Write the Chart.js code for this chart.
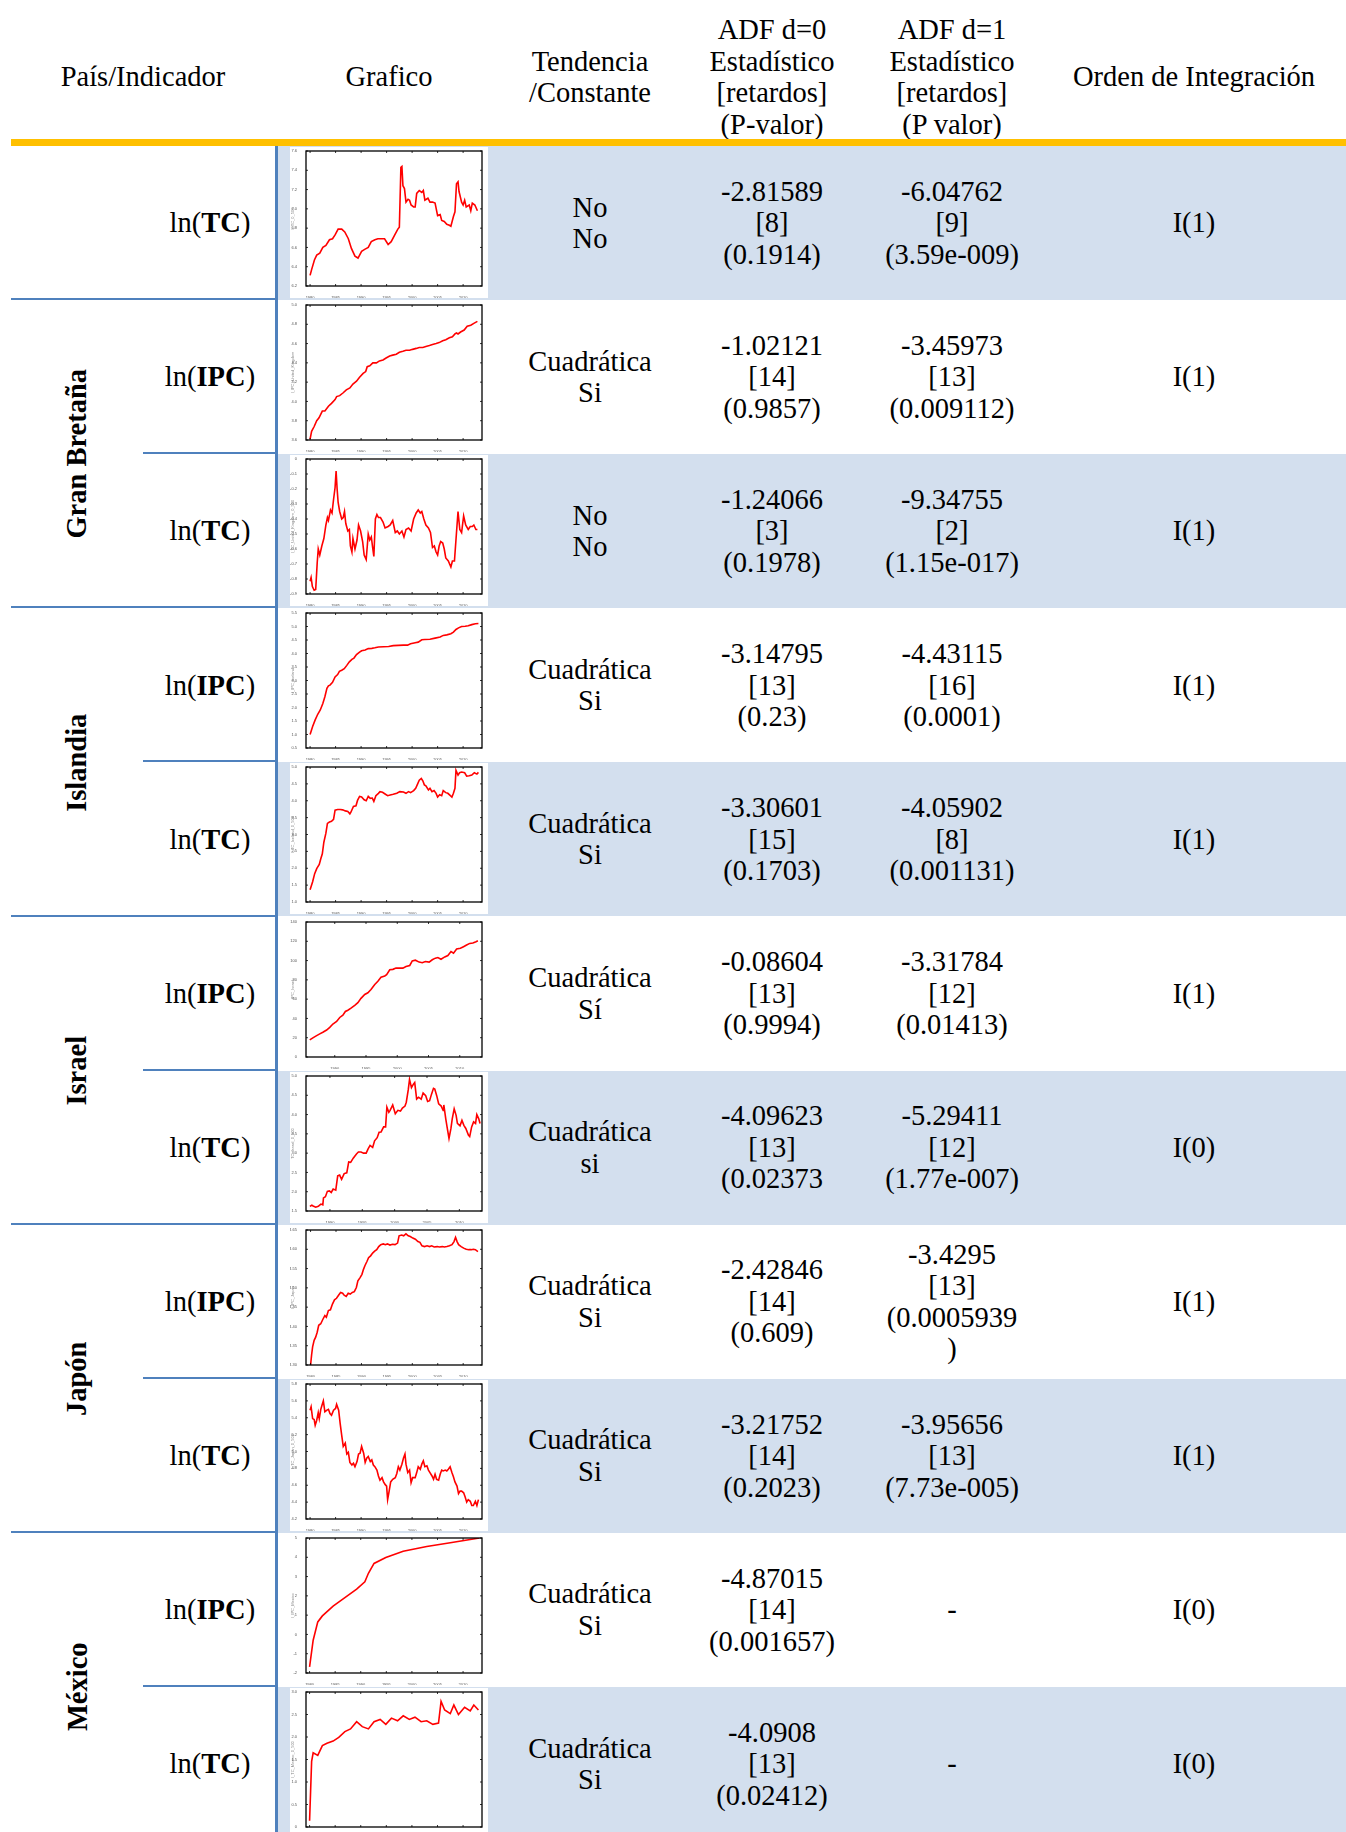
<!DOCTYPE html>
<html>
<head>
<meta charset="utf-8">
<script src="https://cdn.jsdelivr.net/npm/chart.js@4.4.0/dist/chart.umd.min.js"></script>
<style>
  body { margin: 0; background: #fff; }
  #page {
    position: relative; width: 1346px; height: 1832px; overflow: hidden;
    font-family: "Liberation Serif", "Times New Roman", serif; font-size: 28.5px; color: #000;
  }
  .abs { position: absolute; }
  .cell {
    position: absolute; display: flex; flex-direction: column; justify-content: center;
    align-items: center; text-align: center; line-height: 31.5px; white-space: nowrap;
  }
  .country span { display: inline-block; transform: rotate(-90deg); font-weight: bold; }
  .chartbox { position: absolute; background: #fff; }
</style>
</head>
<body>
<div id="page"></div>
<script>
// Tabla de raíces unitarias (ADF)
const indicators = ["TC", "IPC", "TC", "IPC", "TC", "IPC", "TC", "IPC", "TC", "IPC", "TC"]
const countries = [["Gran Bretaña", 1], ["Islandia", 3], ["Israel", 5], ["Japón", 7], ["México", 9]]
const tendencia = [["No", "No"], ["Cuadrática", "Si"], ["No", "No"], ["Cuadrática", "Si"], ["Cuadrática", "Si"],
  ["Cuadrática", "Sí"], ["Cuadrática", "si"], ["Cuadrática", "Si"], ["Cuadrática", "Si"], ["Cuadrática", "Si"], ["Cuadrática", "Si"]]
const adf0 = [["-2.81589", "[8]", "(0.1914)"], ["-1.02121", "[14]", "(0.9857)"], ["-1.24066", "[3]", "(0.1978)"],
  ["-3.14795", "[13]", "(0.23)"], ["-3.30601", "[15]", "(0.1703)"], ["-0.08604", "[13]", "(0.9994)"],
  ["-4.09623", "[13]", "(0.02373"], ["-2.42846", "[14]", "(0.609)"], ["-3.21752", "[14]", "(0.2023)"],
  ["-4.87015", "[14]", "(0.001657)"], ["-4.0908", "[13]", "(0.02412)"]]
const adf1 = [["-6.04762", "[9]", "(3.59e-009)"], ["-3.45973", "[13]", "(0.009112)"], ["-9.34755", "[2]", "(1.15e-017)"],
  ["-4.43115", "[16]", "(0.0001)"], ["-4.05902", "[8]", "(0.001131)"], ["-3.31784", "[12]", "(0.01413)"],
  ["-5.29411", "[12]", "(1.77e-007)"], ["-3.4295", "[13]", "(0.0005939", ")"], ["-3.95656", "[13]", "(7.73e-005)"],
  ["-"], ["-"]]
const orden = ["I(1)", "I(1)", "I(1)", "I(1)", "I(1)", "I(1)", "I(0)", "I(1)", "I(1)", "I(0)", "I(0)"]

// Series de los gráficos [año, valor]
const serieTc0 = [[1980.0,6.31],[1980.3,6.37],[1980.85,6.47],[1981.3,6.52],[1981.9,6.54],[1982.5,6.60],[1983.1,6.62],[1983.8,6.68],[1984.4,6.69],[1984.9,6.73],[1985.5,6.79],[1986.2,6.79],[1986.8,6.76],[1987.5,6.69],[1988.1,6.59],[1988.8,6.51],[1989.4,6.49],[1990.1,6.56],[1990.7,6.58],[1991.4,6.60],[1992.0,6.66],[1992.7,6.68],[1993.3,6.69],[1994.0,6.69],[1994.6,6.69],[1995.3,6.63],[1995.9,6.66],[1996.6,6.73],[1997.2,6.79],[1997.5,6.81],[1997.8,7.43],[1998.0,7.44],[1998.2,7.24],[1998.5,7.21],[1998.8,7.07],[1999.2,7.10],[1999.5,7.09],[1999.8,7.04],[2000.3,7.02],[2000.6,7.02],[2000.9,7.16],[2001.4,7.19],[2001.9,7.17],[2002.2,7.19],[2002.5,7.09],[2003.1,7.11],[2003.5,7.07],[2004.0,7.07],[2004.5,7.06],[2005.0,6.93],[2005.5,6.94],[2005.8,6.88],[2006.3,6.87],[2006.8,6.84],[2007.3,6.83],[2007.6,6.82],[2008.1,6.92],[2008.4,6.97],[2008.7,7.26],[2009.0,7.28],[2009.2,7.18],[2009.7,7.07],[2010.0,7.04],[2010.3,7.09],[2010.6,7.02],[2011.2,7.04],[2011.5,6.98],[2011.8,7.06],[2012.3,7.04],[2012.8,6.98]]
const gbIpc = [[1980.0,3.61],[1980.3,3.69],[1980.8,3.74],[1981.3,3.80],[1981.75,3.83],[1982.4,3.90],[1982.9,3.90],[1983.6,3.95],[1984.2,3.98],[1984.9,4.02],[1985.2,4.05],[1985.8,4.06],[1986.5,4.09],[1987.1,4.12],[1987.8,4.14],[1988.4,4.18],[1989.1,4.21],[1989.7,4.25],[1990.4,4.29],[1990.9,4.31],[1991.2,4.36],[1991.7,4.37],[1992.3,4.40],[1993.0,4.40],[1993.6,4.42],[1994.3,4.43],[1994.9,4.45],[1995.6,4.47],[1996.2,4.48],[1996.9,4.49],[1997.5,4.51],[1998.2,4.52],[1998.8,4.53],[1999.5,4.53],[2000.1,4.54],[2000.8,4.55],[2001.4,4.56],[2002.1,4.56],[2002.7,4.57],[2003.4,4.58],[2004.0,4.59],[2004.7,4.60],[2005.3,4.61],[2006.0,4.63],[2006.6,4.64],[2007.3,4.66],[2007.9,4.67],[2008.4,4.70],[2008.7,4.71],[2009.0,4.70],[2009.5,4.72],[2010.2,4.74],[2010.8,4.78],[2011.5,4.79],[2012.1,4.81],[2012.8,4.83]]
const gbTc = [[1980.0,-0.815],[1980.2,-0.79],[1980.45,-0.85],[1980.8,-0.875],[1981.1,-0.87],[1981.4,-0.69],[1981.6,-0.60],[1981.9,-0.64],[1982.3,-0.58],[1982.7,-0.53],[1983.1,-0.44],[1983.4,-0.39],[1983.6,-0.41],[1984.0,-0.34],[1984.3,-0.36],[1984.6,-0.27],[1984.9,-0.19],[1985.1,-0.08],[1985.3,-0.20],[1985.5,-0.29],[1985.8,-0.35],[1986.2,-0.40],[1986.5,-0.39],[1986.75,-0.35],[1987.0,-0.43],[1987.4,-0.48],[1987.7,-0.47],[1987.9,-0.58],[1988.2,-0.62],[1988.4,-0.53],[1988.8,-0.60],[1989.2,-0.54],[1989.5,-0.44],[1989.9,-0.48],[1990.3,-0.55],[1990.6,-0.64],[1991.0,-0.67],[1991.4,-0.50],[1991.7,-0.54],[1992.0,-0.52],[1992.3,-0.60],[1992.5,-0.65],[1992.8,-0.40],[1993.1,-0.37],[1993.4,-0.39],[1993.8,-0.39],[1994.3,-0.42],[1994.7,-0.46],[1995.3,-0.45],[1995.7,-0.44],[1996.2,-0.41],[1996.7,-0.49],[1997.1,-0.48],[1997.5,-0.50],[1998.0,-0.48],[1998.4,-0.52],[1998.8,-0.47],[1999.3,-0.46],[1999.8,-0.48],[2000.3,-0.40],[2000.8,-0.36],[2001.2,-0.34],[2001.6,-0.36],[2001.9,-0.35],[2002.3,-0.40],[2002.7,-0.44],[2003.2,-0.46],[2003.6,-0.49],[2004.0,-0.59],[2004.35,-0.58],[2004.7,-0.62],[2005.0,-0.64],[2005.3,-0.58],[2005.6,-0.55],[2006.0,-0.56],[2006.3,-0.60],[2006.6,-0.66],[2007.1,-0.68],[2007.6,-0.72],[2007.9,-0.68],[2008.3,-0.68],[2008.7,-0.49],[2009.0,-0.35],[2009.35,-0.47],[2009.7,-0.49],[2010.1,-0.38],[2010.5,-0.44],[2011.0,-0.47],[2011.4,-0.45],[2011.8,-0.45],[2012.1,-0.44],[2012.5,-0.47],[2012.8,-0.47]]
const isIpc = [[1980.0,1.00],[1980.5,1.30],[1981.0,1.54],[1981.5,1.75],[1982.0,1.91],[1982.5,2.15],[1982.9,2.40],[1983.3,2.71],[1983.6,2.80],[1983.9,2.83],[1984.4,2.93],[1984.9,3.13],[1985.4,3.22],[1985.75,3.34],[1986.2,3.38],[1986.7,3.44],[1987.2,3.56],[1987.7,3.69],[1988.2,3.78],[1988.6,3.83],[1989.1,3.96],[1989.7,4.05],[1990.1,4.10],[1990.8,4.13],[1991.4,4.18],[1992.1,4.19],[1992.7,4.21],[1993.4,4.24],[1994.4,4.25],[1995.4,4.26],[1996.3,4.29],[1997.3,4.30],[1998.3,4.31],[1999.1,4.31],[1999.7,4.36],[2000.6,4.40],[2001.2,4.42],[2001.9,4.51],[2002.5,4.52],[2003.5,4.53],[2004.5,4.57],[2005.5,4.61],[2006.1,4.67],[2006.8,4.69],[2007.6,4.73],[2008.1,4.79],[2008.6,4.89],[2009.1,4.95],[2009.7,5.00],[2010.4,5.01],[2011.0,5.03],[2011.7,5.07],[2012.4,5.10],[2013.0,5.11]]
const isTc = [[1980.0,1.36],[1980.5,1.60],[1980.9,1.84],[1981.3,1.99],[1981.8,2.11],[1982.1,2.28],[1982.4,2.43],[1982.7,2.77],[1983.1,3.04],[1983.4,3.33],[1983.8,3.37],[1984.2,3.39],[1984.6,3.45],[1984.9,3.72],[1985.4,3.74],[1985.9,3.74],[1986.4,3.73],[1986.9,3.70],[1987.4,3.68],[1987.8,3.61],[1988.0,3.66],[1988.5,3.83],[1989.0,3.85],[1989.3,4.01],[1989.7,4.13],[1990.1,4.11],[1990.6,4.03],[1991.0,4.00],[1991.4,4.13],[1991.8,4.07],[1992.2,4.08],[1992.5,3.98],[1992.9,4.15],[1993.4,4.22],[1993.7,4.27],[1994.2,4.25],[1994.7,4.20],[1995.2,4.15],[1995.7,4.17],[1996.3,4.19],[1997.0,4.22],[1997.6,4.27],[1998.3,4.26],[1998.8,4.22],[1999.3,4.27],[1999.7,4.24],[2000.3,4.30],[2000.7,4.37],[2001.0,4.47],[2001.4,4.61],[2001.8,4.66],[2002.1,4.59],[2002.4,4.47],[2002.7,4.44],[2003.2,4.32],[2003.5,4.37],[2003.9,4.27],[2004.3,4.30],[2004.7,4.22],[2005.0,4.11],[2005.4,4.18],[2005.8,4.15],[2006.1,4.30],[2006.6,4.24],[2007.0,4.22],[2007.5,4.15],[2007.8,4.11],[2008.1,4.22],[2008.4,4.37],[2008.6,4.90],[2009.0,4.76],[2009.3,4.83],[2009.7,4.85],[2010.3,4.83],[2010.7,4.73],[2011.2,4.74],[2011.7,4.76],[2012.2,4.83],[2012.7,4.79],[2013.0,4.84]]
const ilIpc = [[1986.0,17.8],[1986.5,19.9],[1987.1,22.2],[1987.6,24.0],[1988.1,25.7],[1988.7,28.0],[1989.2,30.8],[1989.7,34.2],[1990.3,36.9],[1990.8,41.0],[1991.3,43.4],[1991.7,47.2],[1992.1,48.5],[1992.6,50.6],[1993.2,53.6],[1993.7,56.4],[1994.2,60.8],[1994.8,64.9],[1995.3,66.6],[1995.8,70.0],[1996.4,75.2],[1996.9,78.6],[1997.4,82.7],[1998.0,84.0],[1998.3,85.4],[1998.8,90.5],[1999.3,90.9],[1999.8,92.2],[2000.4,92.2],[2000.9,92.2],[2001.4,93.9],[2002.0,94.9],[2002.4,99.7],[2002.9,100.4],[2003.5,98.4],[2004.0,97.7],[2004.5,99.0],[2005.1,98.4],[2005.6,100.8],[2006.1,102.5],[2006.5,103.1],[2007.0,101.4],[2007.6,103.8],[2008.1,105.2],[2008.6,109.3],[2009.0,107.6],[2009.5,112.0],[2010.1,112.7],[2010.6,114.4],[2011.1,116.1],[2011.6,117.8],[2012.1,118.2],[2012.6,119.5],[2012.9,120.5]]
const ilTc = [[1986.9,1.62],[1987.2,1.65],[1987.4,1.63],[1987.8,1.60],[1988.2,1.62],[1988.6,1.68],[1988.9,1.66],[1989.0,1.84],[1989.3,1.87],[1989.6,2.01],[1989.9,2.02],[1990.2,1.98],[1990.5,2.07],[1990.9,2.04],[1991.2,2.41],[1991.5,2.43],[1991.8,2.32],[1992.2,2.47],[1992.6,2.49],[1992.9,2.77],[1993.2,2.76],[1993.6,2.87],[1994.1,2.98],[1994.4,3.03],[1994.8,3.03],[1995.2,3.00],[1995.6,3.00],[1995.9,3.11],[1996.2,3.20],[1996.6,3.15],[1996.9,3.32],[1997.3,3.40],[1997.6,3.54],[1997.9,3.55],[1998.3,3.68],[1998.6,3.68],[1998.8,4.19],[1999.1,4.06],[1999.3,4.11],[1999.7,4.25],[2000.1,4.02],[2000.5,4.11],[2000.9,4.09],[2001.2,4.17],[2001.6,4.22],[2001.8,4.32],[2002.1,4.64],[2002.3,4.91],[2002.6,4.70],[2002.9,4.79],[2003.1,4.83],[2003.4,4.40],[2003.7,4.45],[2004.1,4.40],[2004.4,4.56],[2004.8,4.49],[2005.1,4.34],[2005.4,4.36],[2005.7,4.53],[2006.0,4.68],[2006.2,4.66],[2006.5,4.49],[2006.8,4.28],[2007.2,4.22],[2007.5,4.11],[2007.6,4.25],[2007.9,3.89],[2008.1,3.68],[2008.4,3.38],[2008.7,3.64],[2008.9,3.89],[2009.2,4.15],[2009.5,3.98],[2009.7,3.77],[2010.1,3.71],[2010.4,3.85],[2010.7,3.72],[2011.0,3.64],[2011.4,3.47],[2011.6,3.43],[2011.9,3.68],[2012.2,3.81],[2012.5,3.77],[2012.7,4.00],[2013.0,3.89],[2013.2,3.77]]
const jpIpc = [[1980.0,4.300],[1980.2,4.326],[1980.4,4.347],[1980.7,4.364],[1981.0,4.372],[1981.3,4.385],[1981.6,4.403],[1982.0,4.407],[1982.4,4.418],[1982.8,4.428],[1983.1,4.424],[1983.5,4.441],[1983.9,4.443],[1984.3,4.458],[1984.7,4.469],[1985.1,4.473],[1985.5,4.481],[1985.9,4.488],[1986.3,4.486],[1986.6,4.481],[1987.0,4.478],[1987.4,4.486],[1987.8,4.484],[1988.2,4.488],[1988.6,4.490],[1989.0,4.501],[1989.3,4.518],[1989.7,4.526],[1990.1,4.535],[1990.4,4.548],[1990.7,4.558],[1991.1,4.569],[1991.4,4.578],[1991.8,4.583],[1992.2,4.590],[1992.6,4.595],[1993.0,4.599],[1993.4,4.607],[1993.8,4.612],[1994.3,4.614],[1994.7,4.612],[1995.1,4.614],[1995.6,4.611],[1996.1,4.613],[1996.6,4.612],[1997.1,4.616],[1997.4,4.635],[1997.9,4.637],[1998.3,4.635],[1998.75,4.640],[1999.2,4.635],[1999.6,4.633],[2000.1,4.629],[2000.6,4.626],[2001.1,4.620],[2001.5,4.618],[2001.9,4.609],[2002.4,4.607],[2002.9,4.609],[2003.4,4.607],[2003.8,4.609],[2004.3,4.606],[2004.9,4.607],[2005.3,4.606],[2005.9,4.607],[2006.3,4.606],[2006.8,4.607],[2007.3,4.609],[2007.8,4.612],[2008.2,4.620],[2008.5,4.631],[2008.8,4.620],[2009.1,4.612],[2009.6,4.607],[2010.1,4.603],[2010.6,4.600],[2011.1,4.599],[2011.6,4.599],[2012.0,4.600],[2012.4,4.599],[2012.9,4.594]]
const jpTc = [[1980.0,5.49],[1980.2,5.53],[1980.5,5.39],[1980.8,5.38],[1981.0,5.31],[1981.3,5.37],[1981.6,5.46],[1981.8,5.39],[1982.1,5.50],[1982.35,5.55],[1982.6,5.60],[1982.9,5.47],[1983.3,5.49],[1983.6,5.50],[1983.9,5.45],[1984.2,5.43],[1984.6,5.49],[1985.0,5.51],[1985.2,5.56],[1985.6,5.49],[1985.9,5.33],[1986.2,5.19],[1986.5,5.06],[1986.9,5.10],[1987.2,4.97],[1987.5,4.99],[1987.8,4.87],[1988.2,4.84],[1988.5,4.86],[1988.8,4.82],[1989.2,4.88],[1989.5,4.97],[1989.8,4.98],[1990.1,5.06],[1990.5,4.98],[1990.8,4.87],[1991.1,4.92],[1991.4,4.94],[1991.8,4.88],[1992.1,4.90],[1992.4,4.84],[1992.7,4.82],[1993.1,4.78],[1993.4,4.71],[1993.7,4.66],[1994.1,4.69],[1994.4,4.64],[1994.7,4.61],[1995.0,4.59],[1995.2,4.43],[1995.5,4.53],[1995.8,4.64],[1996.2,4.67],[1996.7,4.69],[1997.0,4.74],[1997.3,4.82],[1997.6,4.78],[1998.0,4.85],[1998.3,4.92],[1998.6,4.97],[1998.8,4.85],[1999.15,4.75],[1999.5,4.78],[1999.8,4.63],[2000.1,4.69],[2000.6,4.69],[2000.9,4.75],[2001.2,4.82],[2001.6,4.79],[2001.9,4.85],[2002.2,4.89],[2002.5,4.82],[2002.9,4.83],[2003.2,4.78],[2003.5,4.75],[2003.9,4.71],[2004.2,4.67],[2004.5,4.73],[2004.8,4.67],[2005.2,4.66],[2005.5,4.73],[2005.8,4.78],[2006.1,4.77],[2006.5,4.78],[2006.8,4.77],[2007.1,4.79],[2007.45,4.82],[2007.8,4.75],[2008.1,4.70],[2008.4,4.64],[2008.8,4.59],[2009.1,4.50],[2009.4,4.53],[2009.7,4.53],[2010.1,4.51],[2010.4,4.46],[2010.7,4.40],[2011.0,4.43],[2011.4,4.41],[2011.7,4.36],[2012.0,4.36],[2012.4,4.41],[2012.7,4.36],[2013.0,4.43]]
const mxIpc = [[1980.0,-1.68],[1980.7,-0.30],[1981.6,0.65],[1982.5,0.96],[1984.6,1.47],[1986.9,1.91],[1989.2,2.35],[1990.8,2.73],[1991.5,3.17],[1992.6,3.68],[1994.9,3.99],[1998.3,4.31],[2002.9,4.56],[2007.5,4.75],[2013.2,5.00]]
const mxTc = [[1980.0,0.14],[1980.2,0.80],[1980.4,1.46],[1980.7,1.65],[1981.6,1.59],[1982.5,1.81],[1983.4,1.86],[1984.6,1.91],[1985.7,1.99],[1986.9,2.12],[1988.0,2.18],[1989.2,2.34],[1990.3,2.23],[1991.5,2.18],[1992.6,2.34],[1993.8,2.39],[1994.9,2.28],[1996.0,2.42],[1997.2,2.36],[1998.3,2.47],[1999.5,2.39],[2000.6,2.44],[2001.8,2.34],[2002.9,2.36],[2004.1,2.28],[2005.2,2.31],[2005.7,2.79],[2006.4,2.60],[2007.5,2.52],[2008.2,2.71],[2009.1,2.50],[2010.3,2.66],[2011.4,2.58],[2012.1,2.71],[2013.0,2.60]]
const series = [serieTc0, gbIpc, gbTc, isIpc, isTc, ilIpc, ilTc, jpIpc, jpTc, mxIpc, mxTc]

// Ejes de cada gráfico
const yMin = [6.2, 3.6, -0.9, 0.5, 1, 0, 1.5, 4.3, 4.2, -2, 0]
const yMax = [7.6, 5, 0, 5.5, 5, 140, 5, 4.65, 5.8, 5, 3]
const yStep = [0.2, 0.2, 0.1, 0.5, 0.5, 20, 0.5, 0.05, 0.2, 1, 0.5]
const xMin = [1979.2, 1979.2, 1979.2, 1979.2, 1979.2, 1985.4, 1986.3, 1979.1, 1979.2, 1979.3, 1979.3]
const xMax = [2013.7, 2013.7, 2013.7, 2013.7, 2013.7, 2013.56, 2013.5, 2013.7, 2013.7, 2013.7, 2013.7]
const xYears = [1980, 1985, 1990, 1995, 2000, 2005, 2010]
const yTitles = ["l_TC_0_500", "l_IPC_United_Kingdom", "l_TC_United_Kingdom_0_500", "l_IPC_Iceland", "l_TC_Iceland_0_500",
  "IPC_Israel", "TC_Israel_0_500", "l_IPC_Japan", "l_TC_Japan_0_500", "l_IPC_Mexico", "l_TC_Mexico_0_500"]

const ROW_TOP = 146
const ROW_H = 154.1
const BLUE = "#4F81BD"
const page = document.getElementById("page")

function add(cls, css, html) {
  const d = document.createElement("div")
  d.className = cls
  Object.assign(d.style, css)
  if (html !== undefined) d.innerHTML = "<div>" + html + "</div>"
  page.appendChild(d)
  return d
}

// Encabezado
const headTop = 14, headH = 126
add("cell", { left: "43px", width: "200px", top: headTop + "px", height: headH + "px" }, "País/Indicador")
add("cell", { left: "309px", width: "160px", top: headTop + "px", height: headH + "px" }, "Grafico")
add("cell", { left: "500px", width: "180px", top: headTop + "px", height: headH + "px" }, "Tendencia<br>/Constante")
add("cell", { left: "672px", width: "200px", top: headTop + "px", height: headH + "px" }, "ADF d=0<br>Estadístico<br>[retardos]<br>(P-valor)")
add("cell", { left: "852px", width: "200px", top: headTop + "px", height: headH + "px" }, "ADF d=1<br>Estadístico<br>[retardos]<br>(P valor)")
add("cell", { left: "1054px", width: "280px", top: headTop + "px", height: headH + "px" }, "Orden de Integración")
add("abs", { left: "11px", top: "139px", width: "1335px", height: "7px", background: "#FFC000" })

// Filas
indicators.forEach((ind, i) => {
  const top = ROW_TOP + i * ROW_H
  if (i % 2 === 0) {
    add("abs", { left: "278px", top: top + "px", width: "1068px", height: ROW_H + "px", background: "#D3DFEE" })
  }
  add("cell", { left: "143px", width: "134px", top: top + "px", height: ROW_H + "px" }, "ln(<b>" + ind + "</b>)")
  add("cell", { left: "510px", width: "160px", top: top + "px", height: ROW_H + "px" }, tendencia[i].join("<br>"))
  add("cell", { left: "682px", width: "180px", top: top + "px", height: ROW_H + "px" }, adf0[i].join("<br>"))
  add("cell", { left: "862px", width: "180px", top: top + "px", height: ROW_H + "px" }, adf1[i].join("<br>"))
  add("cell", { left: "1094px", width: "200px", top: top + "px", height: ROW_H + "px" }, orden[i])
  // línea inferior de la celda izquierda
  const fullLine = i % 2 === 0
  const lx = fullLine ? 11 : 143
  add("abs", { left: lx + "px", top: (top + ROW_H - 2) + "px", width: (277 - lx) + "px", height: "2px", background: BLUE })
})

countries.forEach(([name, first]) => {
  const top = ROW_TOP + first * ROW_H
  add("cell country", { left: "11px", width: "132px", top: top + "px", height: 2 * ROW_H + "px" }, "<span>" + name + "</span>")
})

add("abs", { left: "275px", top: "146px", width: "3px", height: "1700px", background: BLUE })

// Marco tipo gnuplot con marcas hacia dentro
const plotFrame = {
  id: "plotFrame",
  afterDraw(chart) {
    const { ctx, chartArea: a, scales } = chart
    ctx.save()
    ctx.strokeStyle = "#000"
    ctx.lineWidth = 1.3
    ctx.strokeRect(a.left, a.top, a.right - a.left, a.bottom - a.top)
    ctx.lineWidth = 0.8
    ctx.beginPath()
    scales.x.ticks.forEach((t) => {
      const px = scales.x.getPixelForValue(t.value)
      ctx.moveTo(px, a.bottom); ctx.lineTo(px, a.bottom - 2)
      ctx.moveTo(px, a.top); ctx.lineTo(px, a.top + 2)
    })
    scales.y.ticks.forEach((t) => {
      const py = scales.y.getPixelForValue(t.value)
      ctx.moveTo(a.left, py); ctx.lineTo(a.left + 2, py)
      ctx.moveTo(a.right, py); ctx.lineTo(a.right - 2, py)
    })
    ctx.stroke()
    ctx.restore()
  },
}

series.forEach((serie, i) => {
  const top = ROW_TOP + i * ROW_H + 1
  const box = add("chartbox", { left: "290px", top: top + "px", width: "198px", height: "151px" })
  const canvas = document.createElement("canvas")
  canvas.width = 198
  canvas.height = 151
  box.appendChild(canvas)

  new Chart(canvas.getContext("2d"), {
    type: "line",
    data: {
      datasets: [{
        data: serie.map(([x, y]) => ({ x, y })),
        borderColor: "#ff0000",
        borderWidth: 1.6,
        pointRadius: 0,
        tension: 0,
      }],
    },
    options: {
      responsive: false,
      animation: false,
      devicePixelRatio: 1,
      layout: { padding: { top: 4, right: 6, left: 0, bottom: 0 } },
      plugins: { legend: { display: false }, tooltip: { enabled: false } },
      scales: {
        x: {
          type: "linear",
          min: xMin[i],
          max: xMax[i],
          grid: { display: false },
          border: { display: false },
          ticks: {
            autoSkip: false, maxRotation: 0, padding: 1, color: "#555", font: { size: 4 },
            callback: (v) => String(v),
          },
          afterBuildTicks: (s) => {
            s.ticks = xYears.filter((y) => y >= xMin[i] && y <= xMax[i]).map((y) => ({ value: y }))
          },
          afterFit: (s) => { s.height = 12 },
        },
        y: {
          min: yMin[i],
          max: yMax[i],
          grid: { display: false },
          border: { display: false },
          ticks: { stepSize: yStep[i], autoSkip: false, padding: 1, color: "#555", font: { size: 4 } },
          title: { display: true, text: yTitles[i], color: "#888", font: { size: 4 }, padding: 0 },
          afterFit: (s) => { s.width = 16 },
        },
      },
    },
    plugins: [plotFrame],
  })
})
</script>
</body>
</html>
